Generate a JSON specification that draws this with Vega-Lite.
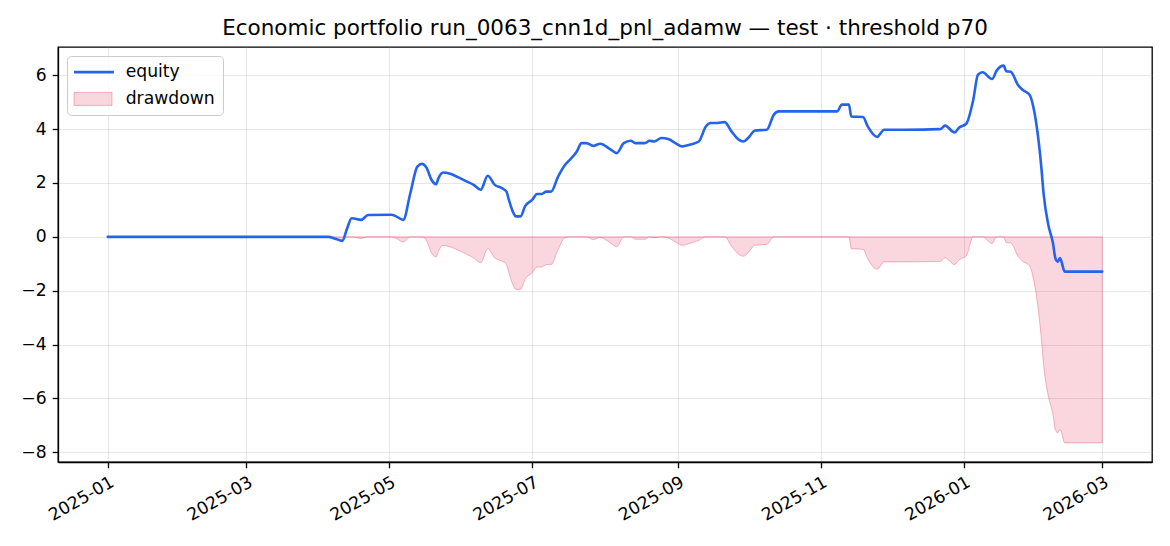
{
  "$schema": "https://vega.github.io/schema/vega-lite/v6.json",
  "description": "Equity curve and drawdown of run_0063_cnn1d_pnl_adamw on the test split.",
  "autosize": "none",
  "width": 1094,
  "height": 415,
  "padding": {"left": 58, "top": 47, "right": 18, "bottom": 84},
  "background": "white",
  "title": {
    "text": "Economic portfolio run_0063_cnn1d_pnl_adamw — test · threshold p70",
    "font": "DejaVu Sans",
    "fontSize": 21.5,
    "fontWeight": "normal",
    "color": "black",
    "anchor": "middle",
    "offset": 8
  },
  "data": {
    "values": [
      {"date": "2025-01-01", "equity": 0, "dd": 0},
      {"date": "2025-02-01", "equity": 0, "dd": 0},
      {"date": "2025-04-05", "equity": 0, "dd": 0},
      {"date": "2025-04-08", "equity": -0.07, "dd": -0.07},
      {"date": "2025-04-11", "equity": -0.15, "dd": -0.15},
      {"date": "2025-04-13", "equity": 0.3, "dd": 0},
      {"date": "2025-04-15", "equity": 0.69, "dd": 0},
      {"date": "2025-04-19", "equity": 0.63, "dd": -0.06},
      {"date": "2025-04-22", "equity": 0.81, "dd": 0},
      {"date": "2025-05-02", "equity": 0.82, "dd": 0},
      {"date": "2025-05-04", "equity": 0.76, "dd": -0.06},
      {"date": "2025-05-07", "equity": 0.63, "dd": -0.19},
      {"date": "2025-05-10", "equity": 1.62, "dd": 0},
      {"date": "2025-05-13", "equity": 2.61, "dd": 0},
      {"date": "2025-05-15", "equity": 2.71, "dd": 0},
      {"date": "2025-05-17", "equity": 2.55, "dd": -0.16},
      {"date": "2025-05-19", "equity": 2.12, "dd": -0.59},
      {"date": "2025-05-21", "equity": 1.96, "dd": -0.75},
      {"date": "2025-05-22", "equity": 2.18, "dd": -0.53},
      {"date": "2025-05-24", "equity": 2.39, "dd": -0.32},
      {"date": "2025-05-27", "equity": 2.34, "dd": -0.37},
      {"date": "2025-05-29", "equity": 2.27, "dd": -0.44},
      {"date": "2025-06-03", "equity": 2.06, "dd": -0.65},
      {"date": "2025-06-06", "equity": 1.93, "dd": -0.78},
      {"date": "2025-06-09", "equity": 1.75, "dd": -0.96},
      {"date": "2025-06-12", "equity": 2.27, "dd": -0.44},
      {"date": "2025-06-15", "equity": 1.93, "dd": -0.78},
      {"date": "2025-06-18", "equity": 1.81, "dd": -0.9},
      {"date": "2025-06-20", "equity": 1.68, "dd": -1.03},
      {"date": "2025-06-21", "equity": 1.38, "dd": -1.33},
      {"date": "2025-06-23", "equity": 0.88, "dd": -1.83},
      {"date": "2025-06-24", "equity": 0.76, "dd": -1.95},
      {"date": "2025-06-26", "equity": 0.76, "dd": -1.95},
      {"date": "2025-06-28", "equity": 1.15, "dd": -1.56},
      {"date": "2025-07-01", "equity": 1.38, "dd": -1.33},
      {"date": "2025-07-03", "equity": 1.59, "dd": -1.12},
      {"date": "2025-07-05", "equity": 1.59, "dd": -1.12},
      {"date": "2025-07-07", "equity": 1.68, "dd": -1.03},
      {"date": "2025-07-09", "equity": 1.68, "dd": -1.03},
      {"date": "2025-07-12", "equity": 2.24, "dd": -0.47},
      {"date": "2025-07-15", "equity": 2.68, "dd": -0.03},
      {"date": "2025-07-17", "equity": 2.86, "dd": 0},
      {"date": "2025-07-20", "equity": 3.17, "dd": 0},
      {"date": "2025-07-22", "equity": 3.48, "dd": 0},
      {"date": "2025-07-24", "equity": 3.48, "dd": 0},
      {"date": "2025-07-27", "equity": 3.38, "dd": -0.1},
      {"date": "2025-07-30", "equity": 3.46, "dd": -0.02},
      {"date": "2025-08-03", "equity": 3.27, "dd": -0.21},
      {"date": "2025-08-06", "equity": 3.11, "dd": -0.37},
      {"date": "2025-08-09", "equity": 3.48, "dd": 0},
      {"date": "2025-08-12", "equity": 3.57, "dd": 0},
      {"date": "2025-08-14", "equity": 3.48, "dd": -0.09},
      {"date": "2025-08-18", "equity": 3.48, "dd": -0.09},
      {"date": "2025-08-20", "equity": 3.57, "dd": 0},
      {"date": "2025-08-22", "equity": 3.54, "dd": -0.03},
      {"date": "2025-08-25", "equity": 3.67, "dd": 0},
      {"date": "2025-08-28", "equity": 3.63, "dd": -0.04},
      {"date": "2025-08-31", "equity": 3.48, "dd": -0.19},
      {"date": "2025-09-03", "equity": 3.36, "dd": -0.31},
      {"date": "2025-09-06", "equity": 3.42, "dd": -0.25},
      {"date": "2025-09-10", "equity": 3.54, "dd": -0.13},
      {"date": "2025-09-13", "equity": 4.1, "dd": 0},
      {"date": "2025-09-15", "equity": 4.23, "dd": 0},
      {"date": "2025-09-18", "equity": 4.23, "dd": 0},
      {"date": "2025-09-21", "equity": 4.26, "dd": 0},
      {"date": "2025-09-24", "equity": 3.91, "dd": -0.35},
      {"date": "2025-09-27", "equity": 3.61, "dd": -0.65},
      {"date": "2025-09-29", "equity": 3.54, "dd": -0.72},
      {"date": "2025-10-01", "equity": 3.67, "dd": -0.59},
      {"date": "2025-10-04", "equity": 3.95, "dd": -0.31},
      {"date": "2025-10-09", "equity": 3.98, "dd": -0.28},
      {"date": "2025-10-12", "equity": 4.54, "dd": 0},
      {"date": "2025-10-14", "equity": 4.66, "dd": 0},
      {"date": "2025-11-08", "equity": 4.66, "dd": 0},
      {"date": "2025-11-10", "equity": 4.91, "dd": 0},
      {"date": "2025-11-13", "equity": 4.91, "dd": 0},
      {"date": "2025-11-14", "equity": 4.47, "dd": -0.44},
      {"date": "2025-11-19", "equity": 4.45, "dd": -0.46},
      {"date": "2025-11-21", "equity": 4.1, "dd": -0.81},
      {"date": "2025-11-25", "equity": 3.71, "dd": -1.2},
      {"date": "2025-11-28", "equity": 3.98, "dd": -0.93},
      {"date": "2025-12-07", "equity": 3.98, "dd": -0.93},
      {"date": "2025-12-22", "equity": 4.0, "dd": -0.91},
      {"date": "2025-12-24", "equity": 4.13, "dd": -0.78},
      {"date": "2025-12-28", "equity": 3.88, "dd": -1.03},
      {"date": "2025-12-30", "equity": 4.06, "dd": -0.85},
      {"date": "2026-01-02", "equity": 4.2, "dd": -0.71},
      {"date": "2026-01-05", "equity": 5.09, "dd": 0},
      {"date": "2026-01-07", "equity": 6.02, "dd": 0},
      {"date": "2026-01-09", "equity": 6.11, "dd": 0},
      {"date": "2026-01-13", "equity": 5.86, "dd": -0.25},
      {"date": "2026-01-15", "equity": 6.18, "dd": 0},
      {"date": "2026-01-18", "equity": 6.36, "dd": 0},
      {"date": "2026-01-19", "equity": 6.15, "dd": -0.21},
      {"date": "2026-01-21", "equity": 6.13, "dd": -0.23},
      {"date": "2026-01-24", "equity": 5.65, "dd": -0.71},
      {"date": "2026-01-26", "equity": 5.46, "dd": -0.9},
      {"date": "2026-01-29", "equity": 5.28, "dd": -1.08},
      {"date": "2026-01-31", "equity": 4.66, "dd": -1.7},
      {"date": "2026-02-03", "equity": 2.61, "dd": -3.75},
      {"date": "2026-02-04", "equity": 1.6, "dd": -4.76},
      {"date": "2026-02-06", "equity": 0.45, "dd": -5.91},
      {"date": "2026-02-08", "equity": -0.24, "dd": -6.6},
      {"date": "2026-02-09", "equity": -0.79, "dd": -7.15},
      {"date": "2026-02-10", "equity": -0.92, "dd": -7.28},
      {"date": "2026-02-11", "equity": -0.79, "dd": -7.15},
      {"date": "2026-02-13", "equity": -1.29, "dd": -7.65},
      {"date": "2026-03-01", "equity": -1.29, "dd": -7.65}
    ]
  },
  "encoding": {
    "x": {
      "field": "date",
      "type": "temporal",
      "title": null,
      "scale": {
        "type": "utc",
        "domain": [
          {"year": 2024, "month": 12, "date": 10, "hours": 19, "utc": true},
          {"year": 2026, "month": 3, "date": 22, "hours": 5, "utc": true}
        ]
      },
      "axis": {
        "values": [
          {"year": 2025, "month": 1, "date": 1, "utc": true},
          {"year": 2025, "month": 3, "date": 1, "utc": true},
          {"year": 2025, "month": 5, "date": 1, "utc": true},
          {"year": 2025, "month": 7, "date": 1, "utc": true},
          {"year": 2025, "month": 9, "date": 1, "utc": true},
          {"year": 2025, "month": 11, "date": 1, "utc": true},
          {"year": 2026, "month": 1, "date": 1, "utc": true},
          {"year": 2026, "month": 3, "date": 1, "utc": true}
        ],
        "labelExpr": "utcFormat(datum.value, '%Y-%m')",
        "labelAngle": -30,
        "labelAlign": "right",
        "labelBaseline": "top",
        "labelPadding": 5
      }
    }
  },
  "layer": [
    {
      "mark": {
        "type": "area",
        "interpolate": "monotone",
        "fillOpacity": 0.18,
        "stroke": "#e11d48",
        "strokeOpacity": 0.3,
        "strokeWidth": 1
      },
      "encoding": {
        "y": {
          "field": "dd",
          "type": "quantitative",
          "title": null,
          "scale": {"domain": [-8.36, 7.05], "nice": false, "zero": false},
          "axis": {"values": [-8, -6, -4, -2, 0, 2, 4, 6]}
        },
        "y2": {"datum": 0},
        "color": {
          "datum": "drawdown",
          "scale": {"domain": ["equity", "drawdown"], "range": ["#2563eb", "#e11d48"]},
          "legend": {
            "title": null,
            "orient": "top-left",
            "offset": 9,
            "padding": 7.5,
            "fillColor": "rgba(255,255,255,0.8)",
            "strokeColor": "#cccccc",
            "cornerRadius": 4,
            "symbolSize": 196,
            "rowPadding": 8.8,
            "labelOffset": 34,
            "labelFont": "DejaVu Sans",
            "labelFontSize": 17.2,
            "labelColor": "black",
            "encode": {
              "symbols": {
                "update": {
                  "shape": {"signal": "datum.value === 'equity' ? 'M-1.3,0H4.4' : 'M-1.3,-0.93H4.13V0.93H-1.3Z'"},
                  "strokeWidth": {"signal": "datum.value === 'equity' ? 2.6 : 1"},
                  "opacity": {"value": 1},
                  "fillOpacity": {"signal": "datum.value === 'equity' ? 0 : 0.18"},
                  "strokeOpacity": {"signal": "datum.value === 'equity' ? 1 : 0.3"}
                }
              }
            }
          }
        }
      }
    },
    {
      "mark": {"type": "rule", "color": "#777777", "strokeWidth": 1.2, "opacity": 0.6},
      "encoding": {"y": {"datum": 0}}
    },
    {
      "mark": {"type": "line", "interpolate": "monotone", "strokeWidth": 2.6, "strokeJoin": "round", "strokeCap": "round"},
      "encoding": {
        "y": {"field": "equity", "type": "quantitative"},
        "color": {
          "datum": "equity",
          "legend": {
            "title": null,
            "orient": "top-left",
            "offset": 9,
            "padding": 7.5,
            "fillColor": "rgba(255,255,255,0.8)",
            "strokeColor": "#cccccc",
            "cornerRadius": 4,
            "symbolSize": 196,
            "rowPadding": 8.8,
            "labelOffset": 34,
            "labelFont": "DejaVu Sans",
            "labelFontSize": 17.2,
            "labelColor": "black",
            "encode": {
              "symbols": {
                "update": {
                  "shape": {"signal": "datum.value === 'equity' ? 'M-1.3,0H4.4' : 'M-1.3,-0.93H4.13V0.93H-1.3Z'"},
                  "strokeWidth": {"signal": "datum.value === 'equity' ? 2.6 : 1"},
                  "opacity": {"value": 1},
                  "fillOpacity": {"signal": "datum.value === 'equity' ? 0 : 0.18"},
                  "strokeOpacity": {"signal": "datum.value === 'equity' ? 1 : 0.3"}
                }
              }
            }
          }
        }
      }
    }
  ],
  "config": {
    "view": {"stroke": "black", "strokeWidth": 1.3},
    "font": "DejaVu Sans",
    "axis": {
      "domainColor": "black",
      "domainWidth": 1.3,
      "tickColor": "black",
      "tickWidth": 1.3,
      "tickSize": 5.8,
      "labelFont": "DejaVu Sans",
      "labelFontSize": 17.2,
      "labelColor": "black",
      "labelPadding": 6,
      "labelFlush": false,
      "labelOverlap": false,
      "gridColor": "#b0b0b0",
      "gridOpacity": 0.3,
      "gridWidth": 1
    }
  }
}
